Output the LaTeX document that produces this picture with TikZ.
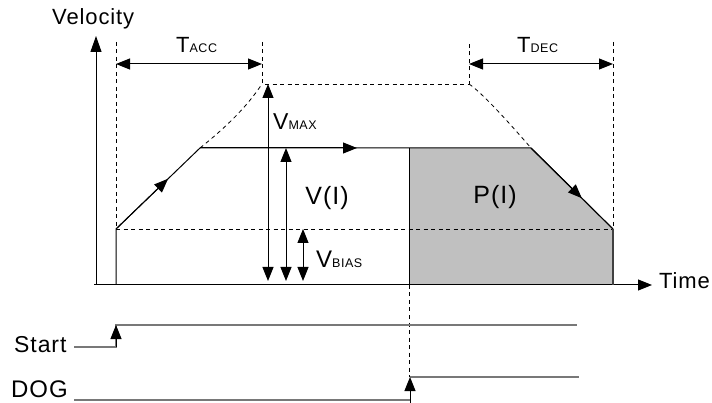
\documentclass[tikz,border=0pt]{standalone}
\usepackage{fontspec}
\setmainfont{Liberation Sans}[LetterSpace=4]
\usetikzlibrary{arrows.meta,calc}
\definecolor{pfill}{RGB}{192,192,192}
\definecolor{sigc}{RGB}{120,120,120}
\newcommand{\smcap}[1]{{\fontsize{12.5}{12.5}\selectfont #1}}
\begin{document}
\begin{tikzpicture}[x=1pt,y=-1pt,
  ln/.style={line width=1pt},
  dsh/.style={line width=0.8pt,dash pattern=on 4pt off 3.5pt},
  tipa/.style={-{Triangle[length=14pt,width=11pt]}},
  dtip/.style={{Triangle[length=14pt,width=11pt]}-{Triangle[length=14pt,width=11pt]}},
  lbl/.style={inner sep=0pt,anchor=base west,font=\fontsize{22}{24}\selectfont},
  big/.style={inner sep=0pt,anchor=base,font=\fontsize{25}{27}\selectfont},
  sig/.style={line width=1.2pt,draw=sigc}]
\useasboundingbox (0,0) rectangle (712,403);
% key points
\coordinate (O) at (96,285);
\coordinate (vtop) at (96,36);
\coordinate (t0) at (94,285);
\coordinate (ttip) at (652,285);
\coordinate (A) at (116,229);
\coordinate (A0) at (116,285);
\coordinate (Atop) at (116,42);
\coordinate (B) at (200,148);
\coordinate (C) at (409,148);
\coordinate (D) at (531,148);
\coordinate (E) at (613,229);
\coordinate (F) at (613,285);
\coordinate (G) at (409,285);
\coordinate (Etop) at (613,42);
\coordinate (M1) at (262,84);
\coordinate (M1t) at (262,42);
\coordinate (M2) at (469,84);
\coordinate (M2t) at (469,42);
% P(I) region
\fill[pfill] (C) -- (D) -- (E) -- (F) -- (G) -- cycle;
% dashed helper lines
\draw[dsh] (A) -- (E);
\draw[dsh] (Atop) -- (A);
\draw[dsh] (Etop) -- (E);
\draw[dsh] (M1t) -- (M1) -- (M2) -- (M2t);
\draw[dsh] (B) .. controls (225,128) and (246,108) .. (M1);
\draw[dsh] (M2) .. controls (481,92) and (505,118) .. (D);
\coordinate (dogU) at (409,377);
\draw[dsh] (G) -- (dogU);
% axes
\draw[ln,-{Triangle[length=16pt,width=11pt]}] (O) -- (vtop);
\draw[ln,-{Triangle[length=14pt,width=11pt]}] (t0) -- (ttip);
% velocity profile
\draw[ln] (A0) -- (A) -- (B) -- (C) -- (D);
\draw[ln,tipa] (A) -- ($(A)!0.62!(B)$);
\draw[ln,tipa] (B) -- (357,148);
\draw[line width=1.2pt] (D) -- (E);
\draw[ln,tipa] (D) -- ($(D)!0.62!(E)$);
\draw[line width=1.4pt,draw=black!75] (E) -- (F);
\draw[ln] (C) -- (G);
% time spans
\coordinate (ta1) at (116,64);
\coordinate (ta2) at (262,64);
\coordinate (td1) at (469,64);
\coordinate (td2) at (613,64);
\draw[ln,dtip] (ta1) -- (ta2);
\draw[ln,dtip] (td1) -- (td2);
% velocity arrows
\coordinate (vm1) at (268,84);
\coordinate (vm2) at (268,281);
\coordinate (vi1) at (286,148);
\coordinate (vi2) at (286,281);
\coordinate (vb1) at (303,229);
\coordinate (vb2) at (303,281);
\draw[ln,dtip] (vm1) -- (vm2);
\draw[ln,dtip] (vi1) -- (vi2);
\draw[ln,dtip] (vb1) -- (vb2);
% labels
\node[lbl] (vel) at (52,25) {Velocity};
\node[lbl] (time) at (659,289) {Time};
\node[lbl] (tacc) at (176,53) {T\smcap{ACC}};
\node[lbl] (tdec) at (517,53) {T\smcap{DEC}};
\node[lbl,font=\fontsize{23}{25}\selectfont] (vmax) at (273,130) {V\smcap{MAX}};
\node[lbl,font=\fontsize{24}{26}\selectfont] (vbias) at (316,268) {V\smcap{BIAS}};
\node[big] (vI) at (327,205) {V(I)};
\node[big] (pI) at (495,204) {P(I)};
\node[lbl,font=\fontsize{23}{25}\selectfont] (start) at (14,352) {Start};
\node[lbl,font=\fontsize{24}{26}\selectfont] (dog) at (11,397) {DOG};
% signals
\coordinate (s0) at (74,347);
\coordinate (s1) at (116,347);
\coordinate (s2) at (116,325);
\coordinate (s3) at (577,325);
\draw[sig] (s0) -- (s1) -- (s2) -- (s3);
\draw[ln,tipa] (s1) -- (s2);
\coordinate (d0) at (74,400);
\coordinate (d1) at (410,400);
\coordinate (d1b) at (410,403);
\coordinate (d2) at (410,377);
\coordinate (d3) at (579,377);
\draw[sig] (d0) -- (d1);
\draw[sig] (d2) -- (d3);
\draw[ln,tipa] (d1b) -- (d2);
\end{tikzpicture}
\end{document}
